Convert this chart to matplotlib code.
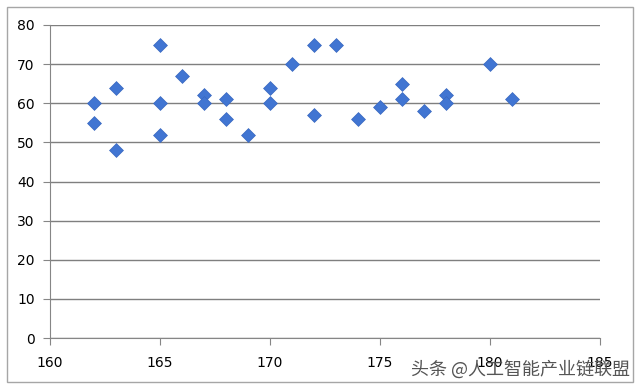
import matplotlib
matplotlib.use("Agg")
import matplotlib.pyplot as plt
from matplotlib.patches import Rectangle

height = [162, 162, 163, 163, 165, 165, 165, 166, 167, 167, 168, 168, 169,
          170, 170, 171, 172, 172, 173, 174, 175, 176, 176, 177, 178, 178,
          180, 181]
weight = [60, 55, 64, 48, 75, 60, 52, 67, 62, 60, 61, 56, 52,
          64, 60, 70, 75, 57, 75, 56, 59, 65, 61, 58, 62, 60,
          70, 61]
x_ticks = [160, 165, 170, 175, 180, 185]
y_ticks = [0, 10, 20, 30, 40, 50, 60, 70, 80]
watermark = "头条 @人工智能产业链联盟"

fig = plt.figure(figsize=(6.4, 3.87), dpi=100)
fig.patch.set_facecolor("white")
fig.patches.append(Rectangle((7 / 640, 5 / 387), 626 / 640, 375 / 387,
                             transform=fig.transFigure, fill=False,
                             edgecolor="#a6a6a6", linewidth=1.0))

ax = fig.add_axes([50 / 640, 1 - 338 / 387, 550 / 640, 313 / 387])
ax.set_xlim(160, 185)
ax.set_ylim(0, 80)
ax.set_xticks(x_ticks)
ax.set_yticks(y_ticks)
ax.grid(axis="y", color="#7f7f7f", linewidth=1.0)
ax.set_axisbelow(True)
for s in ["top", "right"]:
    ax.spines[s].set_visible(False)
for s in ["left", "bottom"]:
    ax.spines[s].set_color("#868686")
ax.tick_params(axis="both", colors="#868686", length=5, labelcolor="black",
               labelsize=10)
ax.tick_params(axis="x", pad=8)
ax.tick_params(axis="y", pad=6)

ax.scatter(height, weight, marker="D", s=50, color="#4175d2",
           edgecolors="#3a68c0", linewidths=0.5, zorder=3)

fig.text(0.985, 0.045, watermark, ha="right", va="center", fontsize=13,
         color="#555555", family=["Noto Sans CJK SC", "DejaVu Sans"])

fig.savefig("out.png", dpi=100)
